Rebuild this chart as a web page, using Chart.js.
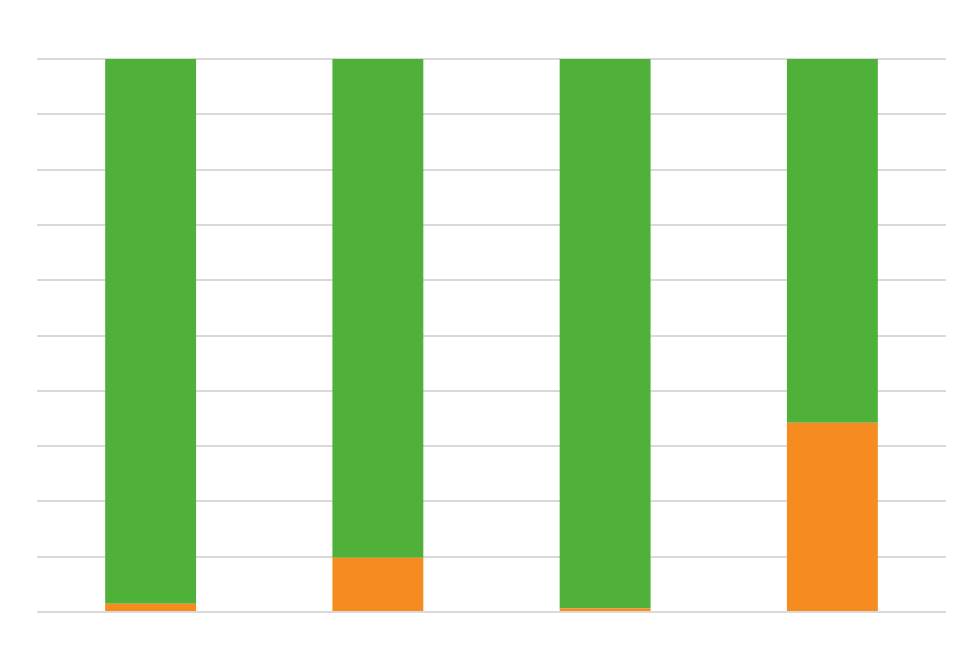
<!DOCTYPE html>
<html>
<head>
<meta charset="utf-8">
<script src="https://cdn.jsdelivr.net/npm/chart.js@4"></script>
<style>
  html, body { margin: 0; padding: 0; background: #fff; }
  #wrap { width: 970px; height: 653px; }
</style>
</head>
<body>
<div id="wrap"><canvas id="chart"></canvas></div>
<script>
// --- data (percent of each bar) ---
const categories = ['1', '2', '3', '4'];
const orangeValues = [1.5, 9.8, 0.7, 34.2];
const greenValues = [98.5, 90.2, 99.3, 65.8];
const tickLabels = [0, 10, 20, 30, 40, 50, 60, 70, 80, 90, 100];

const ctx = document.getElementById('chart').getContext('2d');
new Chart(ctx, {
    type: 'bar',
    data: {
        labels: categories,
        datasets: [
            { label: 'orange', data: orangeValues, backgroundColor: '#f68b1f' },
            { label: 'green', data: greenValues, backgroundColor: '#50b13a' }
        ]
    },
    options: {
        responsive: true,
        maintainAspectRatio: false,
        animation: false,
        layout: { padding: { left: 37, right: 24, top: 59, bottom: 41 } },
        datasets: { bar: { categoryPercentage: 1, barPercentage: 0.4 } },
        scales: {
            x: {
                stacked: true,
                grid: { display: false, drawTicks: false },
                border: { display: false },
                ticks: { display: false }
            },
            y: {
                stacked: true,
                min: tickLabels[0],
                max: tickLabels[tickLabels.length - 1],
                grid: { color: '#d9d9d9', lineWidth: 2, drawTicks: false },
                border: { display: false },
                ticks: { display: false, stepSize: 10 }
            }
        },
        plugins: {
            legend: { display: false },
            tooltip: { enabled: false }
        }
    }
});
</script>
</body>
</html>
